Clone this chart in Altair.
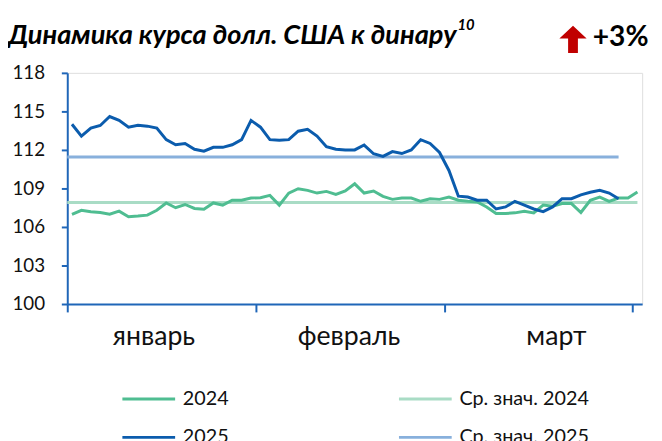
import altair as alt
import pandas as pd

# ---- data ----
v2024 = [106.98, 107.30, 107.18, 107.13, 107.00, 107.23, 106.80, 106.85, 106.92, 107.30,
         107.87, 107.50, 107.75, 107.44, 107.38, 107.87, 107.70, 108.08, 108.08, 108.25,
         108.28, 108.46, 107.70, 108.64, 108.98, 108.85, 108.64, 108.77, 108.54, 108.80,
         109.36, 108.64, 108.80, 108.38, 108.15, 108.25, 108.25, 108.00, 108.20, 108.15,
         108.33, 108.08, 108.00, 107.95, 107.56, 107.05, 107.05, 107.10, 107.23, 107.10,
         107.70, 107.62, 107.82, 107.82, 107.13, 108.08, 108.33, 108.00, 108.25, 108.25,
         108.72]
v2025 = [114.00, 113.08, 113.70, 113.90, 114.60, 114.30, 113.77, 113.92, 113.85, 113.70,
         112.80, 112.40, 112.50, 112.05, 111.90, 112.20, 112.20, 112.40, 112.80, 114.30,
         113.77, 112.80, 112.75, 112.80, 113.46, 113.60, 113.08, 112.25, 112.05, 112.00,
         112.00, 112.38, 111.70, 111.50, 111.87, 111.72, 112.00, 112.80, 112.50, 111.80,
         110.40, 108.40, 108.33, 108.08, 108.08, 107.40, 107.56, 108.00, 107.70, 107.40,
         107.20, 107.56, 108.20, 108.20, 108.50, 108.70, 108.85, 108.64, 108.20]
avg_2024 = 107.9
avg_2025 = 111.45

series_names = ["2024", "Ср. знач. 2024", "2025", "Ср. знач. 2025"]
series_colors = ["#4fbd91", "#a9dcc5", "#0b5cad", "#88b0dc"]
months = ["январь", "февраль", "март"]
month_centers = [9.2, 29.9, 51.9]
month_ticks = [0, 20, 40, 60]
y_ticks = [100, 103, 106, 109, 112, 115, 118]

title_text = "Динамика курса долл. США к динару"
title_note = "10"
change_text = "+3%"

AXIS = "#1f66b8"
FONT = "Lato"

# ---- one table: average lines first (drawn underneath), then the daily series ----
rows = [
    {"x": 0, "y": avg_2024, "s": "Ср. знач. 2024"},
    {"x": len(v2024) - 0.5, "y": avg_2024, "s": "Ср. знач. 2024"},
    {"x": 0, "y": avg_2025, "s": "Ср. знач. 2025"},
    {"x": len(v2025) - 0.5, "y": avg_2025, "s": "Ср. знач. 2025"},
]
for i, v in enumerate(v2024):
    rows.append({"x": i + 0.5, "y": v, "s": "2024"})
for i, v in enumerate(v2025):
    rows.append({"x": i + 0.5, "y": v, "s": "2025"})
lines_df = pd.DataFrame(rows)

month_df = pd.DataFrame({"m": months, "x": month_centers})

W, H = 582, 234

xscale = alt.Scale(domain=[0, 61], nice=False, zero=False)
yscale = alt.Scale(domain=[100, 118], nice=False, zero=False)

color = alt.Color(
    "s:N",
    scale=alt.Scale(domain=series_names, range=series_colors),
    legend=alt.Legend(
        title=None, orient="none", legendX=54, legendY=301.5, columns=2,
        direction="horizontal", values=series_names,
        symbolType="stroke", symbolSize=2850, symbolStrokeWidth=3,
        labelFontSize=20, labelFont=FONT, labelColor="#111111", labelOffset=6,
        columnPadding=165, rowPadding=-21, padding=0, labelLimit=300,
    ),
)

xenc = alt.X("x:Q", scale=xscale, axis=alt.Axis(
    values=month_ticks, labels=False, title=None, grid=False,
    domainColor=AXIS, domainWidth=2, tickColor=AXIS, tickWidth=2, tickSize=8))
yenc = alt.Y("y:Q", scale=yscale, axis=alt.Axis(
    values=y_ticks, title=None, grid=False, domainColor=AXIS, domainWidth=2,
    tickColor=AXIS, tickWidth=2, tickSize=6, labelFontSize=19, labelFont=FONT,
    labelColor="#111111", labelPadding=17, labelOverlap=False))

line_layer = alt.Chart(lines_df).mark_line(strokeWidth=3).encode(
    x=xenc, y=yenc, color=color, detail="s:N", order="x:Q")

month_layer = alt.Chart(month_df).mark_text(
    font=FONT, fontSize=27, color="#111111", baseline="middle", align="center"
).encode(x=xenc, y=alt.value(H + 33), text="m:N")

title_layer = alt.Chart(pd.DataFrame({"t": [title_text]})).mark_text(
    font=FONT, fontSize=27.5, fontWeight="bold", fontStyle="italic", align="left",
    baseline="alphabetic", color="#000000"
).encode(x=alt.value(-60), y=alt.value(-29), text="t:N")

note_layer = alt.Chart(pd.DataFrame({"t": [title_note]})).mark_text(
    font=FONT, fontSize=15, fontWeight="bold", fontStyle="italic", align="left",
    baseline="alphabetic", color="#000000"
).encode(x=alt.value(395), y=alt.value(-43), text="t:N")

arrow_path = "M0,-1 L1,-0.05 L0.36,-0.05 L0.36,1 L-0.36,1 L-0.36,-0.05 L-1,-0.05 Z"
arrow_layer = alt.Chart(pd.DataFrame({"a": [1]})).mark_point(
    shape=arrow_path, filled=True, color="#c00000", opacity=1, size=760, strokeWidth=0
).encode(x=alt.value(512), y=alt.value(-34))

change_layer = alt.Chart(pd.DataFrame({"t": [change_text]})).mark_text(
    font=FONT, fontSize=28.5, fontWeight="bold", align="left", baseline="alphabetic",
    color="#000000"
).encode(x=alt.value(532), y=alt.value(-27), text="t:N")

chart = alt.layer(
    line_layer, month_layer, title_layer, note_layer, arrow_layer, change_layer
).properties(
    width=W, height=H,
    autosize=alt.AutoSizeParams(type="none"),
    padding={"left": 60, "top": 63, "right": 12, "bottom": 136},
).configure_view(stroke=None).configure(background="white")

chart.save("out.html", embed_options={"renderer": "svg", "actions": False})
